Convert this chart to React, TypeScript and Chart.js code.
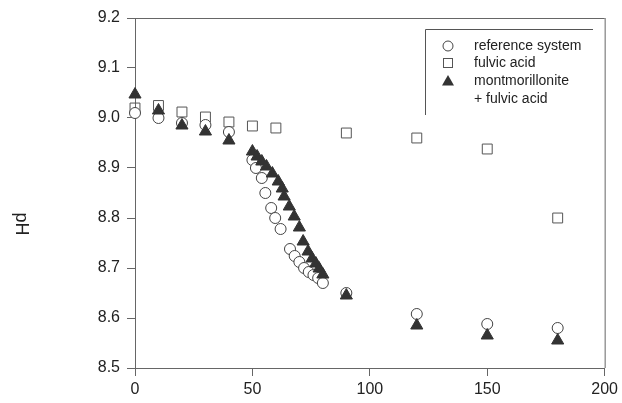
import React, { useEffect, useRef } from "react";
import { Chart, registerables } from "chart.js";

Chart.register(...registerables);

// Reference system (open circles)
const refTime = [0, 10, 20, 30, 40, 50, 51.5, 54, 55.5, 58, 59.7, 62, 66, 68, 70, 72, 74, 76, 78, 80, 90, 120, 150, 180];
const refPH = [9.01, 9.0, 8.99, 8.986, 8.972, 8.916, 8.9, 8.88, 8.85, 8.82, 8.8, 8.778, 8.738, 8.724, 8.712, 8.7, 8.692, 8.686, 8.68, 8.67, 8.65, 8.608, 8.588, 8.58];

// Fulvic acid (open squares)
const fulTime = [0, 10, 20, 30, 40, 50, 60, 90, 120, 150, 180];
const fulPH = [9.02, 9.025, 9.012, 9.002, 8.992, 8.984, 8.98, 8.97, 8.96, 8.938, 8.8];

// Montmorillonite + fulvic acid (filled triangles)
const monTime = [0, 10, 20, 30, 40, 50, 52, 54, 56, 58.5, 61, 62.7, 63.5, 65.7, 67.8, 70, 71.6, 73.7, 75.4, 77, 78.4, 80, 90, 120, 150, 180];
const monPH = [9.047, 9.015, 8.985, 8.973, 8.955, 8.933, 8.923, 8.913, 8.903, 8.889, 8.873, 8.859, 8.843, 8.823, 8.803, 8.781, 8.753, 8.733, 8.719, 8.709, 8.699, 8.687, 8.645, 8.585, 8.565, 8.555];

const legendLabels = ["reference system", "fulvic acid", "montmorillonite", "+ fulvic acid"];
const yTitle = "pH";

const FONT = "'Liberation Sans', Arial, sans-serif";

const toPts = (xs: number[], ys: number[]) => xs.map((x, i) => ({ x, y: ys[i] }));

const decorPlugin = {
  id: "decor",
  afterDraw(chart: any) {
    const { ctx, chartArea } = chart;
    const { left, right, top, bottom } = chartArea;
    ctx.save();
    ctx.strokeStyle = "#666";
    ctx.lineWidth = 1;
    ctx.beginPath();
    ctx.moveTo(left, top + 0.5);
    ctx.lineTo(right, top + 0.5);
    ctx.moveTo(right + 0.5, top);
    ctx.lineTo(right + 0.5, bottom);
    ctx.stroke();

    ctx.fillStyle = "#222";
    ctx.font = `18px ${FONT}`;
    ctx.translate(21, 224);
    ctx.rotate(Math.PI / 2);
    ctx.textAlign = "center";
    ctx.textBaseline = "middle";
    ctx.fillText(yTitle, 0, 0);
    ctx.restore();

    ctx.save();
    const bx = 425.5, by = 29.5;
    ctx.strokeStyle = "#555";
    ctx.lineWidth = 1;
    ctx.beginPath();
    ctx.moveTo(593, by);
    ctx.lineTo(bx, by);
    ctx.lineTo(bx, 115);
    ctx.stroke();
    const mx = 448;
    const rows = [46, 63, 81, 99];
    ctx.beginPath();
    ctx.arc(mx, rows[0], 5, 0, Math.PI * 2);
    ctx.fillStyle = "#fff";
    ctx.fill();
    ctx.strokeStyle = "#444";
    ctx.stroke();
    ctx.strokeStyle = "#555";
    ctx.strokeRect(mx - 4.5, rows[1] - 4.5, 9, 9);
    ctx.beginPath();
    ctx.moveTo(mx, rows[2] - 6);
    ctx.lineTo(mx + 6, rows[2] + 4.5);
    ctx.lineTo(mx - 6, rows[2] + 4.5);
    ctx.closePath();
    ctx.fillStyle = "#333";
    ctx.fill();
    ctx.fillStyle = "#222";
    ctx.font = `14px ${FONT}`;
    ctx.textAlign = "left";
    ctx.textBaseline = "middle";
    legendLabels.forEach((t, i) => ctx.fillText(t, 474, rows[i]));
    ctx.restore();
  },
};

export default function App() {
  const ref = useRef<HTMLCanvasElement | null>(null);
  useEffect(() => {
    if (!ref.current) return;
    const chart = new Chart(ref.current, {
      type: "scatter",
      data: {
        datasets: [
          {
            label: "reference system",
            data: toPts(refTime, refPH),
            pointStyle: "circle",
            pointRadius: 5.5,
            backgroundColor: "#fff",
            borderColor: "#444",
            borderWidth: 1,
            order: 1,
            clip: false,
          },
          {
            label: "fulvic acid",
            data: toPts(fulTime, fulPH),
            pointStyle: "rect",
            pointRadius: 7,
            backgroundColor: "rgba(255,255,255,0)",
            borderColor: "#555",
            borderWidth: 1,
            order: 2,
            clip: false,
          },
          {
            label: "montmorillonite + fulvic acid",
            data: toPts(monTime, monPH),
            pointStyle: "triangle",
            pointRadius: 7,
            backgroundColor: "#333",
            borderColor: "#333",
            borderWidth: 1,
            order: 0,
            clip: false,
          },
        ],
      },
      options: {
        animation: false,
        responsive: false,
        devicePixelRatio: 1,
        layout: { padding: { left: 0, top: 18, right: 15, bottom: 0 } },
        plugins: { legend: { display: false }, tooltip: { enabled: false } },
        scales: {
          x: {
            type: "linear",
            min: 0,
            max: 200,
            afterFit: (s: any) => {
              s.height = 35;
            },
            ticks: {
              stepSize: 50,
              color: "#222",
              padding: 4,
              font: { family: FONT, size: 16 },
              maxRotation: 0,
            },
            grid: { display: true, drawOnChartArea: false, drawTicks: true, tickLength: 8, color: "#666" },
            border: { display: true, color: "#666", width: 1 },
          },
          y: {
            type: "linear",
            min: 8.5,
            max: 9.2,
            afterFit: (s: any) => {
              s.width = 135;
            },
            ticks: {
              stepSize: 0.1,
              color: "#222",
              padding: 7,
              font: { family: FONT, size: 16 },
              callback: (v: any) => Number(v).toFixed(1),
            },
            grid: { display: true, drawOnChartArea: false, drawTicks: true, tickLength: 8, color: "#666" },
            border: { display: true, color: "#666", width: 1 },
          },
        },
      },
      plugins: [decorPlugin],
    });
    return () => chart.destroy();
  }, []);
  return (
    <div style={{ position: "fixed", left: 0, top: 0, width: 622, height: 403, background: "#fff" }}>
      <canvas ref={ref} width={622} height={403} style={{ width: 622, height: 403 }} />
    </div>
  );
}
